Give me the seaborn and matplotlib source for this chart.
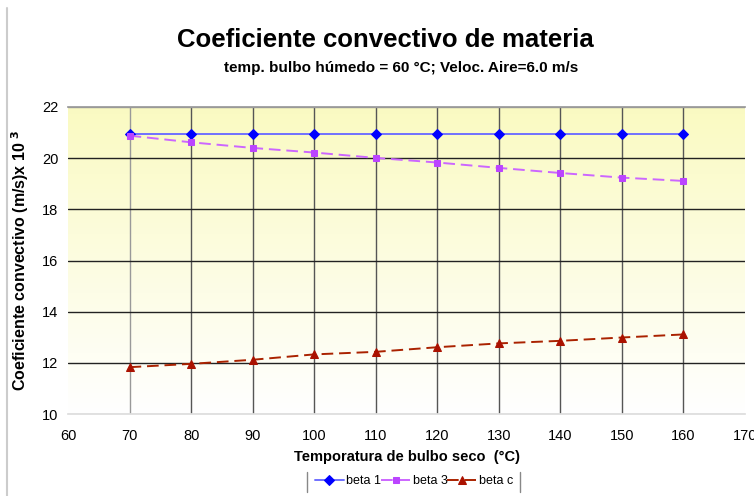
import numpy as np
import pandas as pd
import matplotlib
matplotlib.use("Agg")
import matplotlib.pyplot as plt
import seaborn as sns
from matplotlib.lines import Line2D

sns.set_theme(style="white")
plt.rcParams['font.family'] = ['Liberation Sans', 'DejaVu Sans']
plt.rcParams['text.color'] = 'black'
plt.rcParams['axes.labelcolor'] = 'black'
plt.rcParams['xtick.color'] = 'black'
plt.rcParams['ytick.color'] = 'black'

temps = [70, 80, 90, 100, 110, 120, 130, 140, 150, 160]
beta_1 = [20.94, 20.94, 20.94, 20.94, 20.94, 20.94, 20.94, 20.94, 20.94, 20.94]
beta_3 = [20.88, 20.62, 20.40, 20.22, 20.01, 19.83, 19.62, 19.42, 19.24, 19.11]
beta_c = [11.83, 11.96, 12.12, 12.33, 12.43, 12.61, 12.76, 12.86, 12.99, 13.11]
series_names = ["beta 1", "beta 3", "beta c"]
x_ticks = [60, 70, 80, 90, 100, 110, 120, 130, 140, 150, 160, 170]
y_ticks = [10, 12, 14, 16, 18, 20, 22]

df = pd.DataFrame({
    "T": temps * 3,
    "v": beta_1 + beta_3 + beta_c,
    "s": [series_names[0]] * 10 + [series_names[1]] * 10 + [series_names[2]] * 10,
})

fig = plt.figure(figsize=(7.54, 4.96), dpi=100)
ax = fig.add_axes([68 / 754, 1 - 414 / 496, (745 - 68) / 754, (414 - 107) / 496])

# gradient background
grad = np.linspace(0, 1, 256).reshape(-1, 1)
top = np.array([0.98, 0.98, 0.76])
bot = np.array([1.0, 1.0, 1.0])
img = top[None, None, :] * (1 - grad[:, :, None]) + bot[None, None, :] * grad[:, :, None]
ax.imshow(img, extent=[60, 170, 10, 22], aspect="auto", origin="upper", zorder=0)

styles = {
    "beta 1": dict(color="#0000FF", marker="D", ms=5, lc="#7070FF", ls="-"),
    "beta 3": dict(color="#BB44FF", marker="s", ms=5, lc="#CC66FF", ls=(0, (6, 3))),
    "beta c": dict(color="#AA1100", marker="^", ms=6, lc="#AA2200", ls=(0, (6, 3))),
}
for name in series_names:
    st = styles[name]
    sub = df[df["s"] == name]
    sns.lineplot(data=sub, x="T", y="v", ax=ax, color=st["lc"], linestyle=st["ls"],
                 marker=st["marker"], markersize=st["ms"], markerfacecolor=st["color"],
                 markeredgecolor=st["color"], linewidth=1.4, label=name, zorder=3)

ax.set_xlim(60, 170)
ax.set_ylim(10, 22)
ax.set_xticks(x_ticks)
ax.set_yticks(y_ticks)
ax.set_xticklabels([str(t) for t in x_ticks], fontsize=10.5)
ax.set_yticklabels([str(t) for t in y_ticks], fontsize=10.5)

ax.grid(True, zorder=1)
for t, gl in zip(x_ticks, ax.get_xgridlines()):
    if t in (60, 170):
        gl.set_visible(False)
    elif t == 70:
        gl.set_color("#999999")
        gl.set_linewidth(1.0)
    else:
        gl.set_color("#555555")
        gl.set_linewidth(1.0)
for t, gl in zip(y_ticks, ax.get_ygridlines()):
    if t == 10:
        gl.set_color("#dddddd")
    elif t == 22:
        gl.set_color("#999999")
    else:
        gl.set_color("#222222")
    gl.set_linewidth(1.0)

for sp in ["left", "right"]:
    ax.spines[sp].set_visible(False)
ax.spines["top"].set_color("#999999")
ax.spines["bottom"].set_color("#dddddd")
ax.tick_params(axis="x", direction="out", length=5, color="#888888", pad=6, width=1)
ax.tick_params(axis="y", direction="out", length=4, color="#222222", pad=3)

ax.set_xlabel("Temporatura de bulbo seco  (°C)", fontsize=10.5, fontweight="bold", labelpad=5)
ax.set_ylabel("Coeficiente convectivo (m/s)x 10 $^{\\mathbf{3}}$", fontsize=11.5, fontweight="bold", labelpad=8)

fig.text(385 / 754, 1 - 40 / 496, "Coeficiente convectivo de materia", ha="center", va="center",
         fontsize=18.5, fontweight="bold")
fig.text(401 / 754, 1 - 68 / 496, "temp. bulbo húmedo = 60 °C; Veloc. Aire=6.0 m/s", ha="center", va="center",
         fontsize=11, fontweight="bold")

leg = ax.legend(loc="center", bbox_to_anchor=(414 / 754, 1 - 481 / 496), bbox_transform=fig.transFigure,
                ncol=3, frameon=False, fontsize=9, handlelength=2.3, handletextpad=0.2,
                columnspacing=0.0, borderaxespad=0, borderpad=0)

fig.add_artist(Line2D([307 / 754, 307 / 754], [1 - 492 / 496, 1 - 472 / 496], color="#888888", lw=1))
fig.add_artist(Line2D([520 / 754, 520 / 754], [1 - 492 / 496, 1 - 472 / 496], color="#888888", lw=1))
fig.add_artist(Line2D([7 / 754, 7 / 754], [0, 1 - 8 / 496], color="#cccccc", lw=1.5))

fig.savefig("out.png", dpi=100)
